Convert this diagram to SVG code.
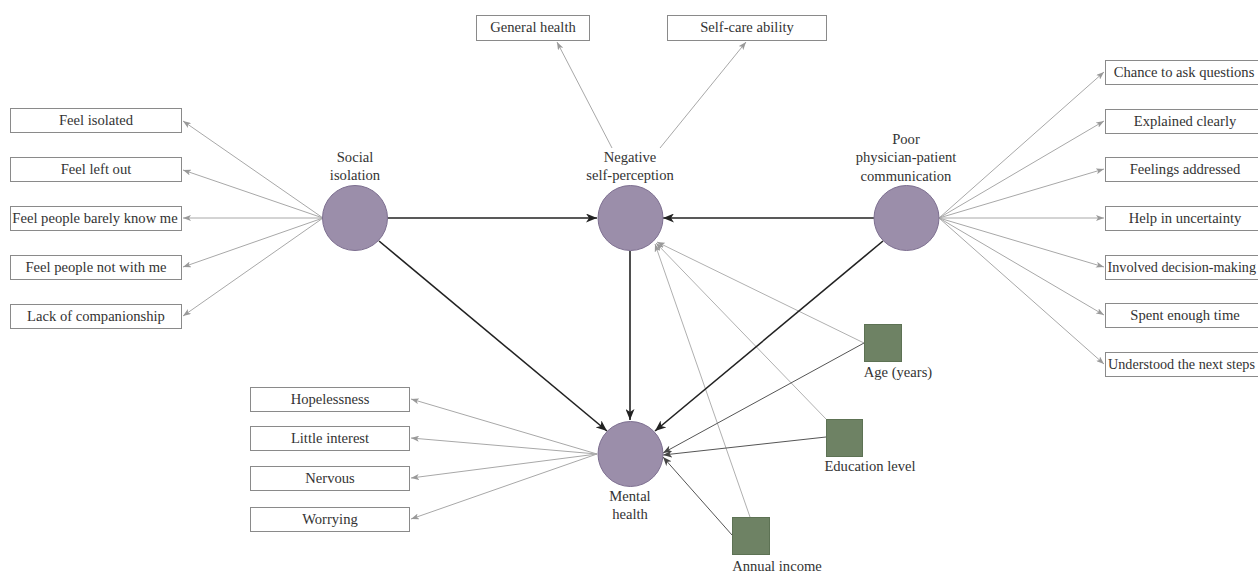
<svg xmlns="http://www.w3.org/2000/svg" width="1258" height="572" viewBox="0 0 1258 572">
<style>
text{font-family:"Liberation Serif","Times New Roman",serif;font-size:14.6px;fill:#333;text-anchor:middle}
text.fit{font-size:14.2px;text-anchor:start}
.box{fill:#fff;stroke:#8a8a8a;stroke-width:1}
.lat{fill:#9b8eaa;stroke:#7d6f90;stroke-width:1}
.cov{fill:#6e8264;stroke:#5d7254;stroke-width:1}
.ind{stroke:#a8a8a8;stroke-width:1;fill:none;marker-end:url(#ga)}
.main{stroke:#222;stroke-width:1.6;fill:none;marker-end:url(#ba)}
.cv1{stroke:#b0b0b0;stroke-width:1;fill:none;marker-end:url(#ga)}
.cv2{stroke:#555;stroke-width:1;fill:none;marker-end:url(#da)}
</style>
<defs>
<marker id="ba" markerUnits="userSpaceOnUse" markerWidth="11" markerHeight="9" refX="11" refY="4.5" orient="auto"><path d="M0,0 L11,4.5 L0,9 L3,4.5 z" fill="#222"/></marker>
<marker id="ga" markerUnits="userSpaceOnUse" markerWidth="8" markerHeight="6" refX="8" refY="3" orient="auto"><path d="M0,0 L8,3 L0,6 L2,3 z" fill="#999"/></marker>
<marker id="da" markerUnits="userSpaceOnUse" markerWidth="9" markerHeight="7" refX="9" refY="3.5" orient="auto"><path d="M0,0 L9,3.5 L0,7 L2.5,3.5 z" fill="#444"/></marker>
</defs>
<g id="connectors">
<line class="ind" x1="323" y1="218" x2="183" y2="121"/>
<line class="ind" x1="323" y1="218" x2="183" y2="170"/>
<line class="ind" x1="323" y1="218" x2="183" y2="218"/>
<line class="ind" x1="323" y1="218" x2="183" y2="267"/>
<line class="ind" x1="323" y1="218" x2="183" y2="316"/>
<line class="ind" x1="612" y1="148" x2="557" y2="42"/>
<line class="ind" x1="660" y1="148" x2="746" y2="42"/>
<line class="ind" x1="939" y1="218" x2="1104" y2="72"/>
<line class="ind" x1="939" y1="218" x2="1104" y2="121"/>
<line class="ind" x1="939" y1="218" x2="1104" y2="169"/>
<line class="ind" x1="939" y1="218" x2="1104" y2="218"/>
<line class="ind" x1="939" y1="218" x2="1104" y2="267"/>
<line class="ind" x1="939" y1="218" x2="1104" y2="315"/>
<line class="ind" x1="939" y1="218" x2="1104" y2="364"/>
<line class="ind" x1="597" y1="454" x2="411" y2="399"/>
<line class="ind" x1="597" y1="454" x2="411" y2="438"/>
<line class="ind" x1="597" y1="454" x2="411" y2="478"/>
<line class="ind" x1="597" y1="454" x2="411" y2="519"/>
<line class="cv1" x1="864" y1="343" x2="657" y2="242"/>
<line class="cv1" x1="826" y1="419" x2="656" y2="243"/>
<line class="cv1" x1="750" y1="517" x2="655" y2="244"/>
<line class="cv2" x1="864" y1="343" x2="663" y2="453"/>
<line class="cv2" x1="826" y1="437" x2="663" y2="455"/>
<line class="cv2" x1="732" y1="535" x2="663" y2="457"/>
<line class="main" x1="388" y1="218" x2="597" y2="218"/>
<line class="main" x1="874" y1="218" x2="663" y2="218"/>
<line class="main" x1="379" y1="241" x2="607" y2="431"/>
<line class="main" x1="630" y1="251" x2="630" y2="420"/>
<line class="main" x1="883" y1="241" x2="655" y2="431"/>
</g>
<g id="social-isolation"><circle class="lat" cx="355" cy="218" r="32.5"/><text x="355" y="162">Social</text><text x="355" y="180">isolation</text></g>
<g id="negative-self-perception"><circle class="lat" cx="630.5" cy="218" r="32.5"/><text x="630" y="162">Negative</text><text x="630" y="180">self-perception</text></g>
<g id="poor-communication"><circle class="lat" cx="906.5" cy="218" r="32.5"/><text x="906" y="144">Poor</text><text x="906" y="162">physician-patient</text><text x="906" y="181">communication</text></g>
<g id="mental-health"><circle class="lat" cx="630.5" cy="454" r="32.5"/><text x="630" y="501">Mental</text><text x="630" y="519">health</text></g>
<g id="feel-isolated"><rect class="box" x="10.5" y="108.5" width="171" height="24"/><text x="96" y="125">Feel isolated</text></g>
<g id="feel-left-out"><rect class="box" x="10.5" y="157.5" width="171" height="24"/><text x="96" y="174">Feel left out</text></g>
<g id="feel-barely-know"><rect class="box" x="10.5" y="206.5" width="171" height="24"/><text x="95" y="223">Feel people barely know me</text></g>
<g id="feel-not-with"><rect class="box" x="10.5" y="255.5" width="171" height="24"/><text x="96" y="272">Feel people not with me</text></g>
<g id="lack-companionship"><rect class="box" x="10.5" y="304.5" width="171" height="24"/><text x="96" y="321">Lack of companionship</text></g>
<g id="general-health"><rect class="box" x="476.5" y="15.5" width="113" height="25"/><text x="533" y="32">General health</text></g>
<g id="self-care"><rect class="box" x="667.5" y="15.5" width="159" height="25"/><text x="747" y="32">Self-care ability</text></g>
<g id="chance-questions"><rect class="box" x="1105.5" y="60.5" width="160" height="24"/><text x="1184" y="77">Chance to ask questions</text></g>
<g id="explained-clearly"><rect class="box" x="1105.5" y="109.5" width="160" height="24"/><text x="1185" y="126">Explained clearly</text></g>
<g id="feelings-addressed"><rect class="box" x="1105.5" y="157.5" width="160" height="24"/><text x="1185" y="174">Feelings addressed</text></g>
<g id="help-uncertainty"><rect class="box" x="1105.5" y="206.5" width="160" height="24"/><text x="1185" y="223">Help in uncertainty</text></g>
<g id="involved-decision"><rect class="box" x="1105.5" y="255.5" width="160" height="24"/><text class="fit" x="1107.5" y="272">Involved decision-making</text></g>
<g id="spent-time"><rect class="box" x="1105.5" y="303.5" width="160" height="24"/><text x="1185" y="320">Spent enough time</text></g>
<g id="understood-steps"><rect class="box" x="1105.5" y="352.5" width="160" height="24"/><text class="fit" x="1108" y="369">Understood the next steps</text></g>
<g id="hopelessness"><rect class="box" x="250.5" y="387.5" width="159" height="24"/><text x="330" y="404">Hopelessness</text></g>
<g id="little-interest"><rect class="box" x="250.5" y="426.5" width="159" height="24"/><text x="330" y="443">Little interest</text></g>
<g id="nervous"><rect class="box" x="250.5" y="466.5" width="159" height="24"/><text x="330" y="483">Nervous</text></g>
<g id="worrying"><rect class="box" x="250.5" y="507.5" width="159" height="24"/><text x="330" y="524">Worrying</text></g>
<g id="age"><rect class="cov" x="864.5" y="324.5" width="37" height="37"/><text x="898" y="377">Age (years)</text></g>
<g id="education"><rect class="cov" x="826.5" y="419.5" width="36" height="37"/><text x="870" y="471">Education level</text></g>
<g id="income"><rect class="cov" x="732.5" y="517.5" width="37" height="37"/><text x="777" y="571">Annual income</text></g>
</svg>
